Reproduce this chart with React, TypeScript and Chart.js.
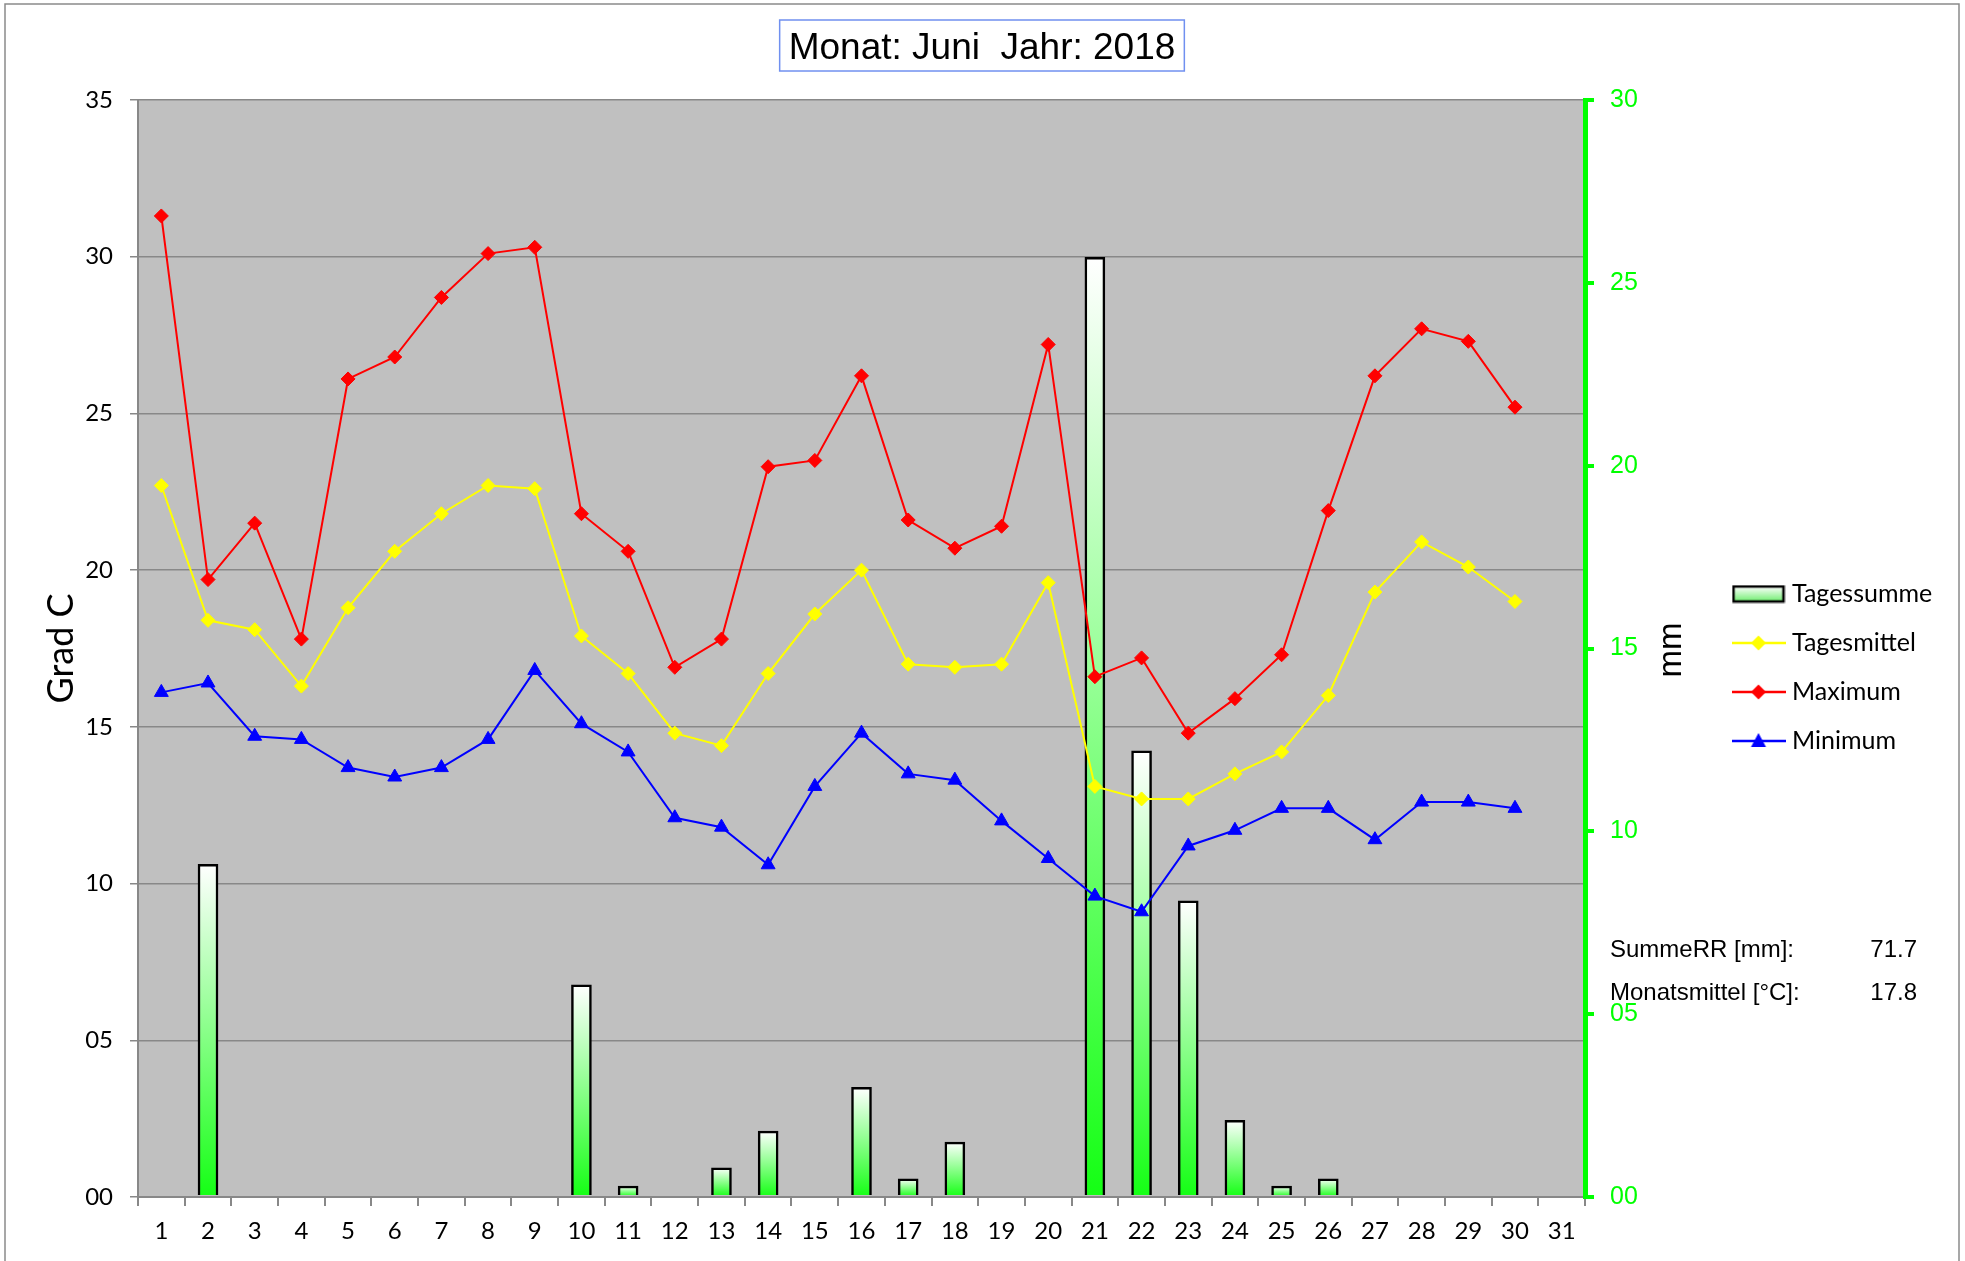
import React, { useEffect, useRef } from 'react';
import { Chart, registerables } from 'chart.js';

Chart.register(...registerables);

// ---------- data ----------
const DAY_LABELS = ['1', '2', '3', '4', '5', '6', '7', '8', '9', '10', '11', '12', '13', '14', '15', '16', '17', '18', '19', '20', '21', '22', '23', '24', '25', '26', '27', '28', '29', '30', '31'];

// daily precipitation sum [mm]
const RAIN_MM = [0, 9.1, 0, 0, 0, 0, 0, 0, 0, 5.8, 0.3, 0, 0.8, 1.8, 0, 3.0, 0.5, 1.5, 0, 0, 25.7, 12.2, 8.1, 2.1, 0.3, 0.5, 0, 0, 0, 0];
// daily mean temperature [°C]
const T_MEAN = [22.7, 18.4, 18.1, 16.3, 18.8, 20.6, 21.8, 22.7, 22.6, 17.9, 16.7, 14.8, 14.4, 16.7, 18.6, 20.0, 17.0, 16.9, 17.0, 19.6, 13.1, 12.7, 12.7, 13.5, 14.2, 16.0, 19.3, 20.9, 20.1, 19.0];
// daily maximum [°C]
const T_MAX = [31.3, 19.7, 21.5, 17.8, 26.1, 26.8, 28.7, 30.1, 30.3, 21.8, 20.6, 16.9, 17.8, 23.3, 23.5, 26.2, 21.6, 20.7, 21.4, 27.2, 16.6, 17.2, 14.8, 15.9, 17.3, 21.9, 26.2, 27.7, 27.3, 25.2];
// daily minimum [°C]
const T_MIN = [16.1, 16.4, 14.7, 14.6, 13.7, 13.4, 13.7, 14.6, 16.8, 15.1, 14.2, 12.1, 11.8, 10.6, 13.1, 14.8, 13.5, 13.3, 12.0, 10.8, 9.6, 9.1, 11.2, 11.7, 12.4, 12.4, 11.4, 12.6, 12.6, 12.4];

const SERIES_NAMES = ['Tagessumme', 'Tagesmittel', 'Maximum', 'Minimum'];
const TITLE_TEXT = 'Monat: Juni  Jahr: 2018';
const STAT_LABELS = ['SummeRR [mm]:', 'Monatsmittel [°C]:'];
const STAT_VALUES = ['71.7', '17.8'];

const pad2 = (v: number | string) => String(v).padStart(2, '0');

const LEGEND_FONT_SIZE = 25;
const LEGEND_PAD = 24;
const LEGEND_BOX_W = 42;
const LEGEND_LEFT = 1713.5; // target left edge of legend box

function makeBarIcon(): HTMLCanvasElement {
  const c = document.createElement('canvas');
  c.width = 54;
  c.height = 19;
  const x = c.getContext('2d')!;
  const g = x.createLinearGradient(0, 2, 0, 17);
  g.addColorStop(0, '#ffffff');
  g.addColorStop(1, '#70ee70');
  x.fillStyle = g;
  x.fillRect(2, 2, 50, 15);
  x.lineWidth = 2.5;
  x.strokeStyle = '#000';
  x.strokeRect(2, 2, 50, 15);
  return c;
}

function makeLineIcon(color: string, shape: 'diamond' | 'triangle'): HTMLCanvasElement {
  const c = document.createElement('canvas');
  c.width = 54;
  c.height = 20;
  const x = c.getContext('2d')!;
  x.strokeStyle = color;
  x.lineWidth = 2.5;
  x.beginPath();
  x.moveTo(0, 10);
  x.lineTo(54, 10);
  x.stroke();
  x.fillStyle = color;
  x.beginPath();
  if (shape === 'diamond') {
    x.moveTo(27, 2.5);
    x.lineTo(34.5, 10);
    x.lineTo(27, 17.5);
    x.lineTo(19.5, 10);
  } else {
    x.moveTo(27, 2);
    x.lineTo(34.5, 16);
    x.lineTo(19.5, 16);
  }
  x.closePath();
  x.fill();
  return c;
}

const decorPlugin = {
  id: 'decor',
  beforeDraw(chart: any) {
    const { ctx, chartArea: a } = chart;
    ctx.save();
    ctx.fillStyle = '#c0c0c0';
    ctx.fillRect(a.left, a.top, a.right - a.left, a.bottom - a.top);
    ctx.restore();
  },
  afterDraw(chart: any) {
    const { ctx } = chart;
    ctx.save();
    // outer frame
    ctx.strokeStyle = '#8a8a8a';
    ctx.lineWidth = 1.5;
    ctx.beginPath();
    ctx.moveTo(5, 1265);
    ctx.lineTo(5, 4);
    ctx.lineTo(1959, 4);
    ctx.lineTo(1959, 1265);
    ctx.stroke();

    // title with box
    ctx.font = '37px "Liberation Sans", Arial, sans-serif';
    ctx.fillStyle = '#000';
    ctx.textAlign = 'center';
    ctx.textBaseline = 'alphabetic';
    const cx = 982;
    const tw = ctx.measureText(TITLE_TEXT).width;
    ctx.fillText(TITLE_TEXT, cx, 59);
    ctx.strokeStyle = '#7090f0';
    ctx.lineWidth = 1.5;
    ctx.strokeRect(cx - tw / 2 - 9, 20, tw + 18, 51);

    // right axis title (rotated, reading bottom-to-top)
    ctx.save();
    ctx.translate(1681, 650);
    ctx.rotate(-Math.PI / 2);
    ctx.font = '33px "Liberation Sans", Arial, sans-serif';
    ctx.textAlign = 'center';
    ctx.textBaseline = 'alphabetic';
    ctx.fillText('mm', 0, 0);
    ctx.restore();

    // stats
    ctx.font = '24px "Liberation Sans", Arial, sans-serif';
    ctx.textBaseline = 'alphabetic';
    const ys = [957, 1000];
    STAT_LABELS.forEach((t, i) => {
      ctx.textAlign = 'left';
      ctx.fillText(t, 1610, ys[i]);
      ctx.textAlign = 'right';
      ctx.fillText(STAT_VALUES[i], 1917, ys[i]);
    });
    ctx.restore();
  },
};

export default function App() {
  const ref = useRef<HTMLCanvasElement>(null);

  useEffect(() => {
    if (!ref.current) return;
    Chart.defaults.font.family = 'Lato, "Noto Sans", sans-serif';

    // measure legend width the way Chart.js does, so the legend lands where we want it
    const mctx = document.createElement('canvas').getContext('2d')!;
    mctx.font = `${LEGEND_FONT_SIZE}px Lato`;
    const maxText = Math.max(...SERIES_NAMES.map((n) => mctx.measureText(n).width));
    const legendWidth = LEGEND_PAD + LEGEND_BOX_W + LEGEND_FONT_SIZE / 2 + maxText + 10;
    const padRight = Math.max(0, 1965 - LEGEND_LEFT - legendWidth);
    const rightAxisWidth = LEGEND_LEFT - 1585 - Math.max(0, (legendWidth + LEGEND_LEFT) - 1965);

    const icons = [makeBarIcon(), makeLineIcon('#ffff00', 'diamond'), makeLineIcon('#ff0000', 'diamond'), makeLineIcon('#0000ff', 'triangle')];

    const barGradient = (c: any) => {
      const chart = c.chart;
      if (c.type !== 'data') return '#22ff22';
      const v = c.raw;
      const s = chart.scales && chart.scales.yR;
      if (v == null || !s) return '#22ff22';
      const top = s.getPixelForValue(v);
      const base = s.getPixelForValue(0);
      if (!isFinite(top) || !isFinite(base) || base - top < 0.5) return '#22ff22';
      const g = chart.ctx.createLinearGradient(0, top, 0, base);
      g.addColorStop(0, '#ffffff');
      g.addColorStop(1, '#14ff14');
      return g;
    };

    const lineDs = (label: string, data: number[], color: string, style: string, radius: number) => ({
      type: 'line' as const,
      label,
      data,
      yAxisID: 'y',
      borderColor: color,
      backgroundColor: color,
      borderWidth: 2,
      pointStyle: style,
      pointRadius: radius,
      pointBackgroundColor: color,
      pointBorderColor: color,
      pointBorderWidth: 1,
      tension: 0,
      order: 0,
    });

    const chart = new Chart(ref.current, {
      type: 'bar',
      data: {
        labels: DAY_LABELS,
        datasets: [
          {
            type: 'bar',
            label: SERIES_NAMES[0],
            data: RAIN_MM.map((v) => (v > 0 ? v : null)),
            yAxisID: 'yR',
            barThickness: 20,
            borderWidth: 2.5,
            borderColor: '#000',
            borderSkipped: 'start',
            backgroundColor: barGradient,
            order: 1,
          } as any,
          lineDs(SERIES_NAMES[1], T_MEAN, '#ffff00', 'rectRot', 7),
          lineDs(SERIES_NAMES[2], T_MAX, '#ff0000', 'rectRot', 7),
          lineDs(SERIES_NAMES[3], T_MIN, '#0000ff', 'triangle', 8),
        ],
      },
      options: {
        responsive: false,
        animation: false,
        events: [],
        layout: { padding: { left: 0, top: 100, right: padRight, bottom: 0 } },
        scales: {
          x: {
            type: 'category',
            offset: true,
            grid: { offset: true, drawOnChartArea: false, drawTicks: true, tickLength: 9, color: '#888', lineWidth: 2 },
            border: { display: true, color: '#888', width: 2 },
            ticks: { color: '#000', font: { family: 'Lato', size: 24 }, padding: 11, maxRotation: 0, autoSkip: false },
            afterFit: (s: any) => {
              s.height = 64;
            },
          },
          y: {
            position: 'left',
            min: 0,
            max: 35,
            ticks: { stepSize: 5, callback: (v: any) => pad2(v), color: '#000', font: { family: 'Lato', size: 24 }, padding: 17 },
            grid: { color: '#888', lineWidth: 1.5, tickLength: 8, drawTicks: true },
            border: { display: true, color: '#888', width: 2 },
            title: { display: true, text: 'Grad C', color: '#000', font: { family: 'Lato', size: 36 }, padding: { top: 40, bottom: 0 } },
            afterFit: (s: any) => {
              s.width = 138;
            },
          },
          yR: {
            position: 'right',
            min: 0,
            max: 30,
            ticks: { stepSize: 5, callback: (v: any) => pad2(v), color: '#00ff00', font: { family: '"Liberation Sans", Arial', size: 25 }, padding: 16 },
            grid: { drawOnChartArea: false, drawTicks: true, tickLength: 9, color: '#00ff00', lineWidth: 4 },
            border: { display: true, color: '#00ff00', width: 5 },
            afterFit: (s: any) => {
              s.width = rightAxisWidth;
            },
          },
        },
        plugins: {
          title: { display: false },
          tooltip: { enabled: false },
          legend: {
            position: 'right',
            align: 'center',
            fullSize: false,
            title: { display: true, text: ' ', padding: 0, font: { size: 30, lineHeight: '38px' } },
            labels: {
              usePointStyle: true,
              pointStyleWidth: LEGEND_BOX_W,
              padding: LEGEND_PAD,
              color: '#000',
              font: { family: 'Lato', size: LEGEND_FONT_SIZE },
              generateLabels: () =>
                SERIES_NAMES.map((name, i) => ({
                  text: name,
                  pointStyle: icons[i],
                  fillStyle: '#fff',
                  strokeStyle: '#000',
                  lineWidth: 0,
                  hidden: false,
                  datasetIndex: i,
                  fontColor: '#000',
                })),
            },
          },
        },
      } as any,
      plugins: [decorPlugin],
    });

    return () => chart.destroy();
  }, []);

  return (
    <div style={{ position: 'absolute', left: 0, top: 0, width: 1965, height: 1261 }}>
      <canvas ref={ref} width={1965} height={1261} style={{ display: 'block' }} />
    </div>
  );
}
